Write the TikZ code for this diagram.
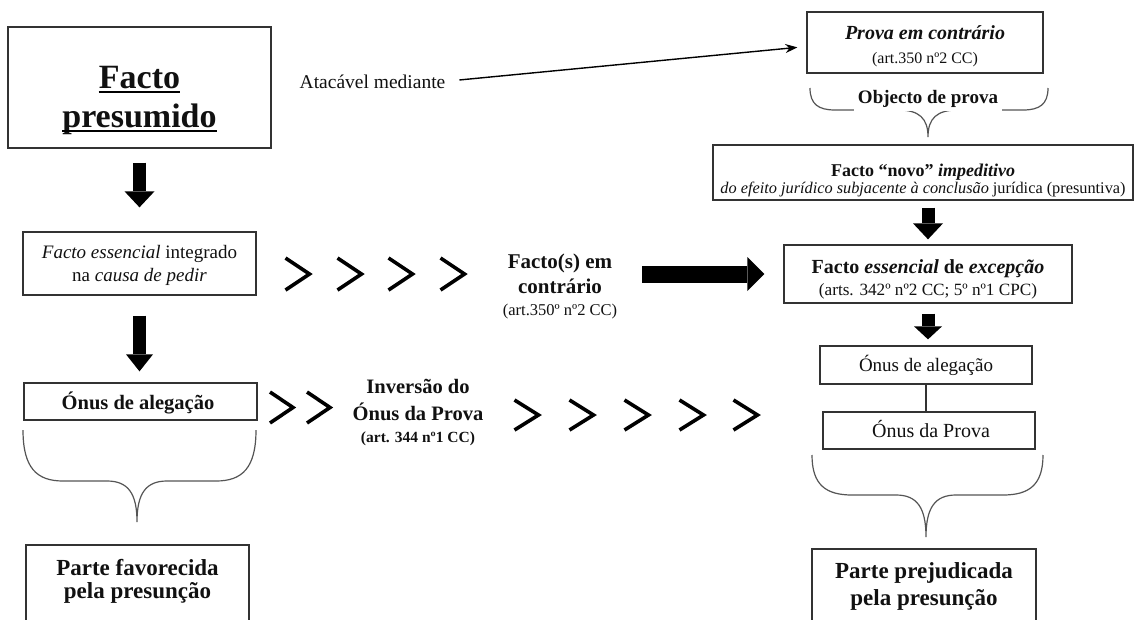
\documentclass[tikz,border=0pt]{standalone}
\usepackage{fontspec}
\setmainfont{Liberation Serif}
\usetikzlibrary{arrows.meta}
\definecolor{boxc}{HTML}{333333}
\definecolor{brc}{HTML}{555555}
\definecolor{txc}{HTML}{111111}
\newcommand\fsz[1]{\fontsize{#1}{#1}\selectfont}
% brace: x1, x2, xc, top, mid, tip, r1, r2
\newcommand\mybrace[8]{%
  \draw[brace] (#1,#4) .. controls (#1,{#4+0.75*(#5-#4)}) and ({#1+0.35*#7},#5) .. ({#1+#7},#5)
    -- ({#3-#8},#5) .. controls ({#3-0.3*#8},#5) and (#3,{#5+0.3*(#6-#5)}) .. (#3,#6)
    .. controls (#3,{#5+0.3*(#6-#5)}) and ({#3+0.3*#8},#5) .. ({#3+#8},#5)
    -- ({#2-#7},#5) .. controls ({#2-0.35*#7},#5) and (#2,{#4+0.75*(#5-#4)}) .. (#2,#4);}
\begin{document}
\begin{tikzpicture}[x=1pt,y=-1pt,
  box/.style={draw=boxc, line width=1.3pt, inner sep=0pt},
  txt/.style={inner sep=0pt, anchor=base, text=txc},
  brace/.style={draw=brc, line width=1.2pt},
  chev/.style={line width=3.6pt, line join=miter, miter limit=10},
  conn/.style={draw=boxc, line width=1.2pt}]
\useasboundingbox (0,0) rectangle (1136,619);
\clip (0,0) rectangle (1136,619);
\fill[white] (0,0) rectangle (1136,619);

% ---------- left column ----------
\node[box, minimum width=263pt, minimum height=121pt] (fp) at (139.5,87.5) {};
\node[txt, font=\fsz{34}\bfseries] (fp1) at (139.5,88) {Facto};
\node[txt, font=\fsz{34}\bfseries] (fp2) at (139.5,127) {presumido};
\draw[line width=1.8pt] ([yshift=-4pt]fp1.base west) -- ([yshift=-4pt]fp1.base east);
\draw[line width=1.8pt] ([yshift=-4pt]fp2.base west) -- ([yshift=-4pt]fp2.base east);

\node[box, minimum width=233pt, minimum height=63pt] (fi) at (139.5,263.5) {};
\node[txt, font=\fsz{19}] (fi1) at (139.5,258) {\textit{Facto essencial} integrado};
\node[txt, font=\fsz{19}] (fi2) at (139.5,281) {na \textit{causa de pedir}};

\node[box, minimum width=233pt, minimum height=37pt] (oal) at (140.5,401.5) {};
\node[txt, font=\fsz{20.5}\bfseries] (oalt) at (138,409) {Ónus de alegação};

\node[box, minimum width=223pt, minimum height=100pt] (pf) at (137.5,595) {};
\node[txt, font=\fsz{23}\bfseries] (pf1) at (137.5,575) {Parte favorecida};
\node[txt, font=\fsz{23}\bfseries] (pf2) at (137.5,598) {pela presunção};

\draw[line width=13pt, -{Triangle[length=16pt,width=30pt,line width=0pt]}, shorten <=14pt, shorten >=24pt] (fp.south) -- (fi.north);
\draw[line width=13pt, -{Triangle[length=17pt,width=27pt,line width=0pt]}, shorten <=20pt, shorten >=11pt] (fi.south) -- (fi.south |- oal.north);
\mybrace{23}{256}{137}{430}{481}{522}{40}{30}

% ---------- top middle ----------
\node[txt, font=\fsz{19.5}] (ata) at (372.5,88) {Atacável mediante};

% ---------- right column ----------
\node[box, minimum width=236pt, minimum height=61pt] (prova) at (925,42.5) {};
\node[txt, font=\fsz{20}\bfseries\itshape] (pr1) at (925,39) {Prova em contrário};
\node[txt, font=\fsz{16}] (pr2) at (925,63) {(art.350 nº2 CC)};
\draw[line width=1.4pt, -{Stealth[length=12pt,width=9pt]}, shorten <=14pt, shorten >=9pt] (ata.east) -- ([yshift=-4pt]prova.west);

\mybrace{810}{1048}{928}{88}{110}{137}{25}{30}
\node[txt, font=\fsz{19}\bfseries, fill=white, inner sep=4pt] (obj) at (928,103) {Objecto de prova};

\node[box, minimum width=420pt, minimum height=55pt] (fn) at (923,172.5) {};
\node[txt, font=\fsz{18}\bfseries] (fn1) at (923,176) {Facto “novo” \textit{impeditivo}};
\node[txt, font=\fsz{16.3}] (fn2) at (923,193) {\textit{do efeito jurídico subjacente à conclusão} jurídica (presuntiva)};

\node[box, minimum width=288pt, minimum height=58pt] (fe) at (928,274) {};
\node[txt, font=\fsz{20}\bfseries] (fe1) at (928,273) {Facto \textit{essencial} de \textit{excepção}};
\node[txt, font=\fsz{17.2}] (fe2) at (928,295) {(arts. 342º nº2 CC; 5º nº1 CPC)};

\node[box, minimum width=212pt, minimum height=38pt] (oa) at (926,365) {};
\node[txt, font=\fsz{19}] (oat) at (926,371) {Ónus de alegação};

\node[box, minimum width=212pt, minimum height=37pt] (op) at (929,430.5) {};
\node[txt, font=\fsz{20}] (opt) at (931,437) {Ónus da Prova};

\node[box, minimum width=224pt, minimum height=100pt] (pp) at (924,599) {};
\node[txt, font=\fsz{23}\bfseries] (pp1) at (924,578) {Parte prejudicada};
\node[txt, font=\fsz{23}\bfseries] (pp2) at (924,605) {pela presunção};

\draw[line width=13pt, -{Triangle[length=16pt,width=30pt,line width=0pt]}, shorten <=7pt, shorten >=5pt] (fe.north |- fn.south) -- (fe.north);
\draw[line width=13pt, -{Triangle[length=13pt,width=28pt,line width=0pt]}, shorten <=10pt, shorten >=6pt] (fe.south) -- (fe.south |- oa.north);
\draw[conn] (oa.south) -- (oa.south |- op.north);
\mybrace{812}{1043}{926}{455}{495}{537}{40}{30}

% ---------- middle ----------
\node[txt, font=\fsz{21}\bfseries] (fc1) at (560,268) {Facto(s) em};
\node[txt, font=\fsz{21}\bfseries] (fc2) at (560,293) {contrário};
\node[txt, font=\fsz{16.5}] (fc3) at (560,315) {(art.350º nº2 CC)};
\draw[line width=17pt, -{Triangle[length=17pt,width=34pt,line width=0pt]}, shorten <=30pt, shorten >=19pt] (fc1.east |- fe.west) -- (fe.west);

\node[txt, font=\fsz{20.5}\bfseries] (iv1) at (418,393) {Inversão do};
\node[txt, font=\fsz{20.5}\bfseries] (iv2) at (418,420) {Ónus da Prova};
\node[txt, font=\fsz{15.5}\bfseries] (iv3) at (418,442) {(art. 344 nº1 CC)};

% chevrons
\foreach \cx in {297.5,349.5,400.5,452.5}
  \draw[chev] (\cx-12,258) -- (\cx+12,274) -- (\cx-12,290);
\foreach \cx in {281.5,318.5}
  \draw[chev] (\cx-11.5,392) -- (\cx+11.5,407.5) -- (\cx-11.5,423);
\foreach \cx in {526.5,581.5,636.5,691.5,745.5}
  \draw[chev] (\cx-12,400) -- (\cx+12,415) -- (\cx-12,430);
\end{tikzpicture}
\end{document}
